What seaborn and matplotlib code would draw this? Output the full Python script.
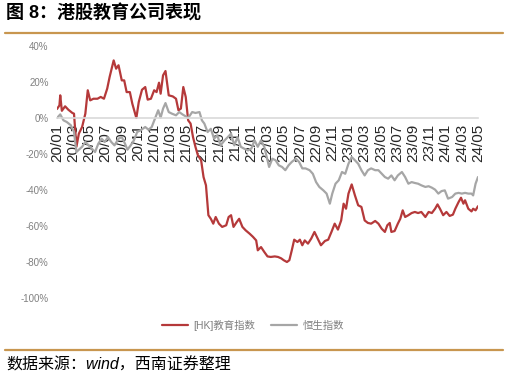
import numpy as np
import pandas as pd
import matplotlib
matplotlib.use("Agg")
import matplotlib.pyplot as plt
import seaborn as sns

# 月份偏移（以 2020/01 为 0）
hk_t = [0.0, 0.3, 0.4, 0.6, 1.0, 1.4, 1.9, 2.1, 2.4, 2.7, 3.1, 3.5, 3.8, 4.1, 4.5, 5.0, 5.4, 5.8,
        6.2, 6.5, 6.7, 7.0, 7.3, 7.6, 8.0, 8.3, 8.6, 9.0, 9.3, 9.8, 10.1, 10.5, 10.9, 11.2, 11.6,
        12.0, 12.3, 12.6, 12.8, 13.1, 13.4, 13.8, 14.3, 14.7, 15.0, 15.3, 15.6, 15.9, 16.2, 16.5,
        16.8, 17.1, 17.4, 17.8, 18.1, 18.4, 18.7, 19.0, 19.3, 19.6, 20.0, 20.4, 20.9, 21.2, 21.5,
        21.8, 22.2, 22.5, 22.9, 23.3, 23.8, 24.2, 24.6, 24.8, 25.2, 25.6, 26.0, 26.4, 26.9, 27.3,
        27.7, 28.0, 28.4, 28.7, 29.0, 29.3, 29.7, 30.0, 30.3, 30.6, 31.0, 31.4, 31.8, 32.2, 32.6,
        33.1, 33.5, 33.9, 34.3, 34.7, 35.1, 35.4, 35.7, 36.0, 36.4, 36.8, 37.2, 37.6, 38.0, 38.4,
        38.8, 39.3, 39.7, 40.1, 40.5, 40.8, 41.1, 41.3, 41.7, 42.1, 42.4, 42.7, 43.0, 43.4, 43.8,
        44.2, 44.6, 45.0, 45.5, 45.9, 46.3, 46.7, 47.0, 47.3, 47.7, 48.1, 48.5, 48.9, 49.2, 49.6,
        49.9, 50.2, 50.4, 50.8, 51.2, 51.4, 51.7, 52.0]
hk_v = [5, 7, 12.6, 4, 6.5, 4.6, 2.8, 2.4, -16, -8.7, -5, 2.4, 15.4, 9.8, 10.7, 10.7, 11.7, 10.7,
        16.3, 22.8, 26.5, 32, 27.4, 29.3, 20.9, 20.9, 14.4, 14.4, 8, 0, 8.9, 15.7, 17.2, 10.2, 10.7,
        15.4, 14.4, 19.6, 13.5, 23.7, 26.1, 12.6, 12, 10.7, 4.3, 5.2, 17.2, 11.7, -1.3, -3.1,
        -10.6, -16, -20.7, -23.5, -32.8, -37.4, -54, -56, -58.7, -55, -58.7, -60.5, -59.6, -55, -54,
        -60.5, -57.8, -56, -60.5, -62.4, -64.3, -66, -68, -73.5, -71.7, -74.4, -76.9, -77.2, -76.9, -77.2,
        -78, -79, -80, -79, -73.5, -67.6, -68.9, -67.6, -70.7, -68, -69.8, -67, -63.3, -67, -70.7,
        -68.3, -67.6, -63.3, -58.7, -62, -56.9, -47.6, -50.4, -42, -36.9, -43, -48.5, -49.4, -56.9, -58.3,
        -58.7, -57.2, -58.7, -61.5, -63.3, -59.6, -58.3, -63.3, -62.8, -58.7, -56, -51.3, -55, -54, -52.8,
        -52.2, -52.8, -52.2, -55, -52.2, -52.8, -50.4, -48, -50.4, -54, -52.2, -54.4, -53.7, -50.4, -46.7,
        -44.3, -47.6, -45.7, -50.4, -51.9, -50.4, -51.3, -49]

hsi_t = [0.0, 0.4, 0.8, 1.2, 1.7, 2.1, 2.4, 2.7, 3.1, 3.5, 3.9, 4.3, 4.7, 5.1, 5.5, 5.9, 6.3, 6.7,
         7.1, 7.6, 8.0, 8.4, 8.7, 9.1, 9.5, 9.9, 10.3, 10.9, 11.3, 11.7, 12.1, 12.5, 12.8, 13.1, 13.4,
         13.8, 14.2, 14.7, 15.1, 15.5, 15.9, 16.2, 16.7, 17.1, 17.6, 17.9, 18.2, 18.6, 19.0, 19.4,
         19.8, 20.2, 20.7, 21.1, 21.5, 21.9, 22.3, 22.7, 23.1, 23.6, 24.0, 24.4, 24.8, 25.2, 25.6,
         25.8, 26.2, 26.6, 27.0, 27.4, 27.8, 28.2, 28.6, 29.0, 29.5, 29.9, 30.3, 30.7, 31.2, 31.6,
         32.0, 32.4, 32.9, 33.3, 33.7, 34.0, 34.4, 34.8, 35.2, 35.6, 36.0, 36.4, 36.8, 37.2, 37.6,
         38.0, 38.4, 38.8, 39.3, 39.7, 40.1, 40.5, 40.9, 41.3, 41.7, 42.1, 42.6, 43.0, 43.4, 43.8,
         44.2, 44.6, 45.0, 45.5, 45.9, 46.3, 46.7, 47.1, 47.5, 47.9, 48.3, 48.8, 49.2, 49.6, 50.0,
         50.4, 50.8, 51.2, 51.4, 51.7, 52.0]
hsi_v = [0, 2, -1.3, -2.2, -4, -7.8, -18.9, -17.6, -16, -13.3, -15.2, -17, -18.9, -14.3, -11.5, -13.3, -10.6, -13.3,
         -15.2, -11.5, -10.6, -14.3, -17.6, -15.2, -12.4, -7.8, -6.9, -5, -6.5, -5, -0.4, 4.3, 0.2, 5.2, 8.3,
         3.3, 2.4, 1.5, 3.3, 2, 0.9, 0, 3.3, 2.8, 3.3, -1.3, -3.1, -7.8, -6, -11.5,
         -9.6, -15.2, -12.4, -10.6, -8.7, -15.2, -10.6, -16, -17, -18, -17, -12.4, -16, -12.4, -16,
         -19.8, -27.2, -22.6, -23.5, -26.3, -27.2, -29, -26.3, -24.4, -22.6, -24.4, -28, -28, -29, -31,
         -35.6, -38.3, -40.2, -42, -47.6, -42, -36.5, -34.6, -30, -31, -25.4, -21.7, -23.5, -25.4, -29,
         -31.9, -29, -28, -29, -29, -30.9, -32.8, -33.7, -31.9, -34.6, -31.9, -30, -32.8, -36.5, -35.6,
         -36.1, -36.5, -37.4, -38.3, -37.9, -38.7, -39.8, -42, -40.6, -40.2, -44.8, -43.9, -42, -41.6, -42,
         -41.6, -42, -42, -43, -36.5, -32.8]

tick_labels = ["20/01", "20/03", "20/05", "20/07", "20/09", "20/11", "21/01", "21/03", "21/05",
               "21/07", "21/09", "21/11", "22/01", "22/03", "22/05", "22/07", "22/09", "22/11",
               "23/01", "23/03", "23/05", "23/07", "23/09", "23/11", "24/01", "24/03", "24/05"]

df = pd.concat([
    pd.DataFrame({"t": hk_t, "v": hk_v, "s": "[HK]教育指数"}),
    pd.DataFrame({"t": hsi_t, "v": hsi_v, "s": "恒生指数"}),
])

sns.set_theme(style="white")
plt.rcParams['font.family'] = ['Liberation Sans', 'Noto Sans CJK SC', 'DejaVu Sans']
plt.rcParams['axes.unicode_minus'] = False

fig = plt.figure(figsize=(5.07, 3.78), dpi=100)
ax = fig.add_axes([57 / 507, 1 - 298 / 378, (478 - 57) / 507, (298 - 46) / 378])

sns.lineplot(data=df, x="t", y="v", hue="s", palette=["#B5393A", "#A6A6A6"],
             linewidth=1.6, ax=ax, legend=True)

ax.set_xlim(0, 52)
ax.set_ylim(-100, 40)
ax.set_xlabel("")
ax.set_ylabel("")

ax.set_yticks(np.arange(-100, 41, 20))
ax.set_yticklabels([f"{v}%" for v in range(-100, 41, 20)], fontsize=7, color="#808080")
ax.set_xticks(np.arange(0, 53, 2))
ax.set_xticklabels(tick_labels, fontsize=6.5, color="#808080")
ax.tick_params(axis="x", labelrotation=90, length=3, width=0.8, color="#D9D9D9", pad=1)
ax.tick_params(axis="y", length=0, pad=6)

for s in ["top", "right", "left"]:
    ax.spines[s].set_visible(False)
ax.spines["bottom"].set_position(("data", 0))
ax.spines["bottom"].set_color("#D9D9D9")
ax.spines["bottom"].set_linewidth(1.2)

leg = ax.legend(loc="center", bbox_to_anchor=(253 / 507, 1 - 325 / 378),
                bbox_transform=fig.transFigure, ncol=2, frameon=False,
                fontsize=7.5, handlelength=2.5, columnspacing=1.5, handletextpad=0.5)
for txt in leg.get_texts():
    txt.set_color("#7F7F7F")

fig.text(6 / 507, 1 - 14 / 378, "图 8：港股教育公司表现", fontsize=13, fontweight="bold",
         va="center", ha="left", color="#000000")
fig.add_artist(plt.Line2D([5 / 507, 503 / 507], [1 - 33 / 378] * 2, color="#C8964F",
                          linewidth=1.6, transform=fig.transFigure))
fig.add_artist(plt.Line2D([5 / 507, 503 / 507], [1 - 350 / 378] * 2, color="#C8964F",
                          linewidth=1.6, transform=fig.transFigure))
fig.text(6 / 507, 1 - 365 / 378, "数据来源：wind，西南证券整理", fontsize=11.5, style="italic",
         va="center", ha="left", color="#000000")

fig.savefig("out.png", dpi=100)
